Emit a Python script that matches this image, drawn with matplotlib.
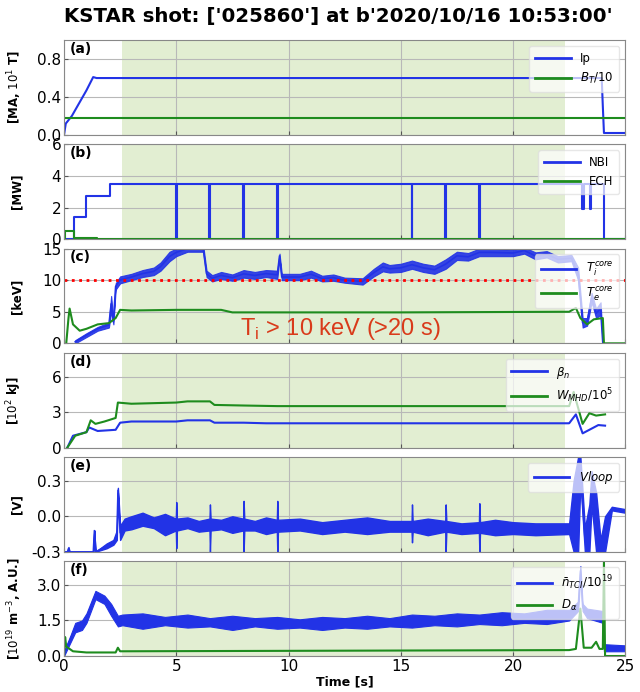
import numpy as np
import matplotlib
matplotlib.use("Agg")
import matplotlib.pyplot as plt


# ---------------- DATA ---------------- #

# (a) plasma current / toroidal field
ip_t = [0.0, 0.08, 0.35, 1.0, 1.3, 1.45, 23.95, 24.0, 24.05, 25.0]
ip_v = [0.0, 0.12, 0.2, 0.47, 0.61, 0.6, 0.6, 0.3, 0.02, 0.02]
bt_t = [0.0, 25.0]
bt_v = [0.18, 0.18]

# (b) heating power (steps)
nbi_t = [0.0, 0.46, 0.46, 0.97, 0.97, 2.07, 2.07,
         4.98, 4.98, 5.02, 5.02, 6.48, 6.48, 6.52, 6.52,
         7.98, 7.98, 8.02, 8.02, 9.48, 9.48, 9.52, 9.52,
         15.48, 15.48, 15.52, 15.52, 16.98, 16.98, 17.02, 17.02,
         18.48, 18.48, 18.52, 18.52, 23.08, 23.08, 23.14, 23.14,
         23.42, 23.42, 23.48, 23.48, 24.05, 24.05, 25.0]
nbi_v = [0.0, 0.0, 1.4, 1.4, 2.75, 2.75, 3.5,
         3.5, 0.0, 0.0, 3.5, 3.5, 0.0, 0.0, 3.5,
         3.5, 0.0, 0.0, 3.5, 3.5, 0.0, 0.0, 3.5,
         3.5, 0.0, 0.0, 3.5, 3.5, 0.0, 0.0, 3.5,
         3.5, 0.0, 0.0, 3.5, 3.5, 1.9, 1.9, 3.5,
         3.5, 1.9, 1.9, 3.5, 3.5, 0.0, 0.0]
ech_t = [0.0, 0.05, 0.05, 0.45, 0.45, 1.45, 1.45, 25.0]
ech_v = [0.0, 0.0, 0.5, 0.5, 0.04, 0.04, 0.0, 0.0]

# (c) core temperatures, Ti as a band (lower / upper envelope)
ti_t = [0.5, 1.0, 1.5, 2.0, 2.1, 2.2, 2.3, 2.5, 3.0, 3.5, 4.0, 4.3, 4.7,
        5.0, 5.5, 6.2, 6.35, 6.6, 7.0, 7.5, 8.0, 8.5, 9.0, 9.5, 9.6, 9.7,
        10.5, 11.0, 11.5, 12.0, 12.5, 13.3, 13.8, 14.2, 14.5, 15.0, 15.5,
        16.0, 16.5, 17.0, 17.5, 18.0, 18.5, 19.0, 20.0, 20.5, 21.0, 21.5,
        22.0, 22.6, 22.9, 23.1, 23.3, 23.5, 23.7, 23.9, 24.0]
ti_lo = [0.0, 1.0, 2.0, 2.5, 5.0, 3.0, 8.5, 9.5, 10.0, 10.5, 10.8, 11.5, 13.0,
         13.8, 14.5, 14.5, 10.5, 9.8, 10.2, 9.9, 10.4, 10.2, 10.5, 10.2, 13.5, 10.0,
         10.0, 10.4, 9.8, 9.9, 9.6, 9.3, 10.6, 11.4, 11.2, 11.3, 11.8,
         11.3, 11.0, 11.8, 13.2, 13.1, 13.8, 13.8, 13.8, 14.2, 13.3, 13.6,
         12.8, 13.0, 10.0, 2.5, 2.8, 6.5, 4.0, 4.5, 0.0]
ti_hi = [0.5, 1.6, 2.6, 3.3, 7.5, 3.8, 9.5, 10.6, 11.0, 11.6, 12.0, 12.8, 14.5,
         15.0, 15.5, 15.5, 11.5, 10.8, 11.3, 10.9, 11.6, 11.3, 11.6, 11.5, 14.2, 11.0,
         11.0, 11.5, 10.7, 10.9, 10.4, 10.3, 11.8, 12.8, 12.4, 12.6, 13.1,
         12.6, 12.3, 13.3, 14.5, 14.3, 15.0, 15.0, 14.8, 15.2, 14.4, 14.6,
         13.8, 14.0, 12.0, 4.0, 4.0, 8.0, 5.5, 6.5, 0.0]
te_t = [0.1, 0.2, 0.25, 0.4, 0.7, 1.0, 1.5, 2.0, 2.3, 2.5, 3.0, 5.0, 7.0,
        7.5, 15.0, 22.5, 22.8, 23.0, 23.3, 23.6, 24.0, 24.05, 25.0]
te_v = [0.0, 4.0, 5.5, 3.0, 2.0, 2.3, 3.0, 3.2, 4.0, 5.3, 5.2, 5.3, 5.3,
        4.9, 4.9, 5.0, 5.6, 4.0, 3.0, 3.8, 4.0, 0.0, 0.0]
ti_threshold = 10.0

# (d) normalised beta and stored energy
bn_t = [0.15, 0.4, 1.0, 1.12, 1.5, 2.3, 2.5, 3.0, 5.0, 5.5, 6.5, 6.7, 8.0,
        9.0, 22.5, 22.8, 23.1, 23.5, 23.8, 24.1]
bn_v = [0.0, 1.0, 1.3, 1.7, 1.4, 1.5, 2.1, 2.2, 2.2, 2.3, 2.3, 2.1, 2.1,
        2.05, 2.05, 2.8, 1.2, 1.6, 1.9, 1.85]
wm_t = [0.15, 0.5, 1.0, 1.19, 1.4, 1.8, 2.3, 2.4, 3.0, 5.0, 5.5, 6.5, 6.7,
        8.0, 9.5, 22.5, 22.7, 23.1, 23.4, 23.7, 24.1]
wm_v = [0.0, 1.0, 1.3, 2.3, 2.0, 2.2, 2.5, 3.8, 3.7, 3.8, 3.9, 3.9, 3.6,
        3.55, 3.5, 3.5, 4.7, 2.0, 2.9, 2.7, 2.8]

# (e) loop voltage, band between lower / upper envelope
vl_t = [0.0, 0.15, 0.2, 0.25, 1.3, 1.35, 1.4, 1.9, 2.2, 2.35, 2.4, 2.5,
        2.7, 3.0, 3.5, 4.0, 4.5, 4.98, 5.0, 5.03, 5.5, 6.0, 6.48, 6.5, 6.53,
        7.0, 7.5, 7.98, 8.0, 8.03, 8.5, 9.0, 9.48, 9.5, 9.53, 10.5, 11.5,
        12.5, 13.5, 14.5, 15.48, 15.5, 15.53, 16.2, 16.98, 17.0, 17.03,
        17.7, 18.48, 18.5, 18.53, 19.2, 20.0, 21.0, 22.5, 22.7, 22.9, 23.0,
        23.2, 23.4, 23.5, 23.7, 23.9, 24.1, 24.4, 25.0]
vl_lo = [-0.3, -0.3, -0.28, -0.3, -0.3, -0.12, -0.3, -0.27, -0.24, -0.2, 0.2, -0.2,
         -0.12, -0.11, -0.08, -0.1, -0.16, -0.12, -0.27, -0.12, -0.1, -0.13, -0.12, -0.3, -0.12,
         -0.11, -0.14, -0.12, -0.3, -0.12, -0.12, -0.15, -0.13, -0.3, -0.13, -0.12, -0.15,
         -0.13, -0.15, -0.13, -0.13, -0.22, -0.13, -0.16, -0.13, -0.3, -0.13,
         -0.15, -0.14, -0.3, -0.14, -0.16, -0.15, -0.16, -0.15, -0.3, -0.3, 0.3,
         -0.3, -0.3, 0.1, -0.3, -0.3, -0.3, 0.05, 0.03]
vl_hi = [-0.3, -0.3, -0.26, -0.3, -0.3, -0.12, -0.3, -0.23, -0.2, -0.12, 0.24, -0.08,
         -0.02, 0.0, 0.03, -0.01, 0.02, -0.02, 0.12, -0.02, -0.01, -0.04, -0.02, 0.1, -0.02,
         -0.03, 0.0, -0.02, 0.13, -0.02, -0.04, -0.01, -0.03, 0.13, -0.03, -0.02, -0.05,
         -0.03, -0.01, -0.04, -0.04, 0.1, -0.04, -0.02, -0.04, 0.1, -0.04,
         -0.06, -0.05, 0.11, -0.05, -0.03, -0.05, -0.06, -0.06, 0.3, 0.5, 0.5,
         -0.1, 0.1, 0.38, 0.2, -0.2, 0.0, 0.08, 0.06]

# (f) line-averaged density (band) and D-alpha
ne_t = [0.0, 0.3, 0.5, 0.8, 1.0, 1.4, 1.8, 2.1, 2.4, 2.6, 3.5, 4.5, 5.5,
        6.5, 7.5, 8.5, 9.5, 10.5, 11.5, 12.5, 13.5, 14.5, 15.5, 16.5, 17.5,
        18.5, 19.5, 20.5, 21.5, 22.5, 22.9, 23.0, 23.1, 23.3, 24.0, 24.05, 25.0]
ne_lo = [0.0, 0.6, 1.0, 1.1, 1.4, 2.4, 2.2, 1.7, 1.25, 1.3, 1.15, 1.3, 1.2,
         1.25, 1.1, 1.25, 1.15, 1.2, 1.1, 1.2, 1.15, 1.25, 1.2, 1.3, 1.25,
         1.35, 1.3, 1.4, 1.35, 1.5, 1.9, 3.4, 1.9, 1.6, 1.4, 0.2, 0.2]
ne_hi = [0.2, 0.9, 1.4, 1.5, 1.8, 2.75, 2.55, 2.2, 1.7, 1.75, 1.8, 1.65, 1.75,
         1.6, 1.7, 1.6, 1.65, 1.55, 1.65, 1.6, 1.7, 1.6, 1.75, 1.7, 1.8,
         1.75, 1.85, 1.8, 1.95, 1.95, 2.3, 3.8, 2.2, 2.0, 1.9, 0.5, 0.45]
da_t = [0.0, 0.05, 0.1, 0.4, 1.0, 2.3, 2.4, 2.5, 2.6, 22.5, 22.8, 23.0,
        23.15, 23.5, 23.7, 23.85, 24.0, 24.05, 24.1, 25.0]
da_v = [0.0, 0.8, 0.4, 0.2, 0.15, 0.15, 0.35, 0.2, 0.2, 0.25, 0.3, 2.0,
        0.35, 0.35, 0.6, 0.3, 0.3, 4.0, 0.0, 0.0]

shade_t = [2.6, 22.3]

panel_labels = ["(a)", "(b)", "(c)", "(d)", "(e)", "(f)"]
ylabels = ["[MA, $10^1$ T]", "[MW]", "[keV]", "[$10^2$ kJ]", "[V]",
           "[$10^{19}$ m$^{-3}$, A.U.]"]
ylims = [(0, 1.0), (0, 6), (0, 15), (0, 8), (-0.3, 0.5), (0, 4.0)]
yticks = [[0.0, 0.4, 0.8], [0, 2, 4, 6], [0, 5, 10, 15], [0, 3, 6],
          [-0.3, 0.0, 0.3], [0.0, 1.5, 3.0]]
yfmt = ["%.1f", "%d", "%d", "%d", "%.1f", "%.1f"]


# ---------------- FIGURE ---------------- #

blue = "#2233e6"
green = "#1e8c1e"
shade = "#e2eed2"

fig, axes = plt.subplots(6, 1, figsize=(6.4, 6.92), dpi=100, sharex=True)
fig.subplots_adjust(left=0.1, right=0.977, top=0.942, bottom=0.052, hspace=0.1)

fig.suptitle("KSTAR shot: ['025860'] at b'2020/10/16 10:53:00'",
             fontsize=14.2, fontweight="bold", x=0.528, y=0.99)

for i, ax in enumerate(axes):
    ax.axvspan(shade_t[0], shade_t[1], color=shade, zorder=0, lw=0)
    ax.set_xlim(0, 25)
    ax.set_ylim(*ylims[i])
    ax.set_yticks(yticks[i])
    ax.set_yticklabels([yfmt[i] % v for v in yticks[i]])
    ax.set_xticks([0, 5, 10, 15, 20, 25])
    ax.grid(color="#b8b8b8", linewidth=0.8, zorder=1)
    ax.set_axisbelow(True)
    ax.tick_params(direction="in", labelsize=11, length=3, pad=2,
                   color="#555555")
    for spine in ax.spines.values():
        spine.set_color("#888888")
    ax.set_ylabel(ylabels[i], fontsize=8.5, fontweight="bold")
    ax.text(0.01, 0.98, panel_labels[i], transform=ax.transAxes,
            fontsize=10, fontweight="bold", va="top", ha="left")

for ax in axes:
    ax.yaxis.set_label_coords(-0.072, 0.5)

# (a)
ax = axes[0]
ax.plot(ip_t, ip_v, color=blue, lw=1.5, label="Ip")
ax.plot(bt_t, bt_v, color=green, lw=1.5, label="$B_T$/10")

# (b)
ax = axes[1]
ax.plot(nbi_t, nbi_v, color=blue, lw=1.5, label="NBI")
ax.plot(ech_t, ech_v, color=green, lw=1.5, label="ECH")

# (c)
ax = axes[2]
ax.fill_between(ti_t, ti_lo, ti_hi, color=blue, lw=0.8, alpha=0.9)
ax.plot(ti_t, [(a + b) / 2 for a, b in zip(ti_lo, ti_hi)], color=blue,
        lw=1.2, label="$T_i^{core}$")
ax.plot(te_t, te_v, color=green, lw=1.5, label="$T_e^{core}$")
ax.axhline(ti_threshold, color="red", ls=":", lw=2)
ax.text(12.3, 2.3, "T$_\\mathregular{i}$ > 10 keV (>20 s)", color="#d93a1a",
        fontsize=17, ha="center", va="center", family="Liberation Sans")

# (d)
ax = axes[3]
ax.plot(bn_t, bn_v, color=blue, lw=1.5, label="$\\beta_n$")
ax.plot(wm_t, wm_v, color=green, lw=1.5, label="$W_{MHD}/10^5$")

# (e)
ax = axes[4]
ax.fill_between(vl_t, vl_lo, vl_hi, color=blue, lw=1.0)
ax.plot(vl_t, [(a + b) / 2 for a, b in zip(vl_lo, vl_hi)], color=blue,
        lw=1.0, label="$Vloop$")

# (f)
ax = axes[5]
ax.fill_between(ne_t, ne_lo, ne_hi, color=blue, lw=0.8)
ax.plot(ne_t, [(a + b) / 2 for a, b in zip(ne_lo, ne_hi)], color=blue,
        lw=1.0, label="$\\bar{n}_{TCI}/10^{19}$")
ax.plot(da_t, da_v, color=green, lw=1.5, label="$D_\\alpha$")
ax.set_xlabel("Time [s]", fontsize=9, fontweight="bold", labelpad=1)

for ax in axes:
    leg = ax.legend(loc="upper right", fontsize=8.5, framealpha=0.7,
                    handlelength=3.0, borderpad=0.5)
    leg.get_frame().set_edgecolor("#dddddd")
    for line in leg.get_lines():
        line.set_linewidth(2)

plt.savefig("out.png", dpi=100)
